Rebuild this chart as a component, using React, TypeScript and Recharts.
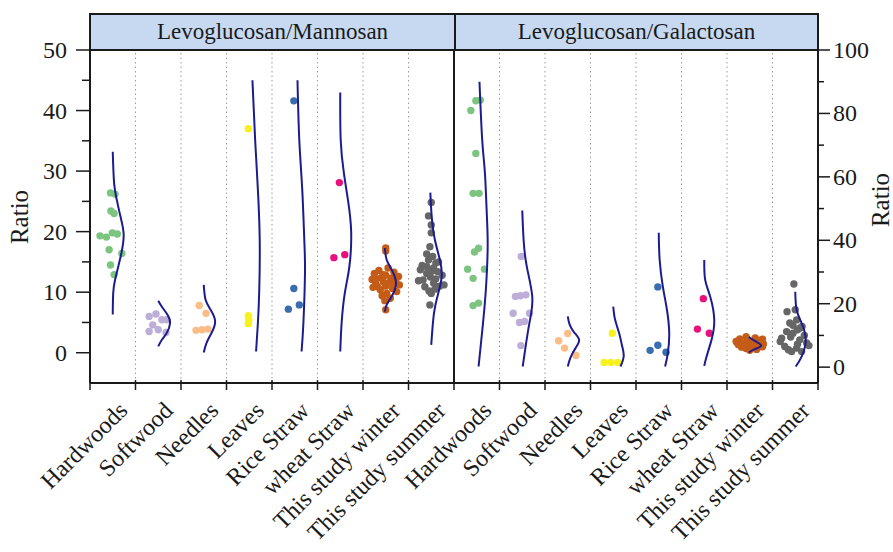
import React from "react";
import {
  ReferenceLine,
  Scatter,
  ScatterChart,
  XAxis,
  YAxis,
} from "recharts";

// Two-panel jitter + half-normal curve chart: Levoglucosan/Mannosan (left
// axis, 0-50) and Levoglucosan/Galactosan (right axis, 0-100).

const panelTitles = ["Levoglucosan/Mannosan", "Levoglucosan/Galactosan"];

const categories = [
  "Hardwoods",
  "Softwood",
  "Needles",
  "Leaves",
  "Rice Straw",
  "wheat Straw",
  "This study winter",
  "This study summer",
];

const groupColors = [
  "#7cc47f",
  "#bcaed6",
  "#fbbd86",
  "#f8f21c",
  "#3a6cae",
  "#e8117c",
  "#c45c17",
  "#666666",
];

const leftTicks = [0, 5, 10, 15, 20, 25, 30, 35, 40, 45, 50];
const rightTicks = [0, 10, 20, 30, 40, 50, 60, 70, 80, 90, 100];

// Levoglucosan/Mannosan points (value + horizontal jitter within the category)
const manValues = [
  [26.4, 26.2, 23.4, 23.0, 19.3, 19.1, 19.8, 19.6, 17.0, 16.4, 14.5, 12.9],
  [6.0, 6.4, 5.45, 5.45, 4.6, 3.5, 3.8, 3.35],
  [7.8, 6.5, 3.7, 3.8, 3.9],
  [37.0, 6.1, 5.4, 4.8],
  [41.6, 10.6, 7.2, 7.9],
  [28.1, 15.7, 16.2],
  [17.3, 16.8, 14.0, 13.6, 13.3, 13.1, 12.8, 12.6, 12.4, 12.3, 12.1, 11.9, 11.7, 11.6, 11.4, 11.2, 11.0, 10.8, 10.6, 10.4, 10.1, 9.8, 9.4, 9.0, 8.6, 7.1, 12.9, 11.5, 10.9, 12.2],
  [24.8, 22.6, 21.1, 19.8, 17.5, 16.3, 15.9, 15.3, 14.8, 14.4, 14.0, 13.7, 13.4, 13.1, 12.8, 12.5, 12.2, 11.9, 11.5, 11.2, 10.9, 10.5, 10.2, 9.8, 7.9, 15.0, 12.0, 13.5, 11.0, 14.2],
];
const manJitter = [
  [-0.05, 0.05, -0.04, 0.03, -0.28, -0.14, -0.01, 0.1, -0.08, 0.2, -0.05, 0.03],
  [-0.2, -0.05, 0.08, 0.19, -0.12, -0.2, 0.0, 0.17],
  [-0.1, 0.05, -0.17, -0.04, 0.09],
  [-0.02, -0.02, -0.01, -0.02],
  [-0.02, -0.02, -0.14, 0.1],
  [-0.02, -0.14, 0.1],
  [0.0, 0.0, 0.05, -0.15, 0.18, -0.25, 0.0, 0.28, -0.1, 0.12, -0.3, 0.22, -0.05, 0.08, -0.22, 0.3, 0.0, -0.28, 0.15, -0.12, 0.24, 0.02, -0.08, 0.1, -0.02, 0.0, -0.05, 0.2, -0.18, -0.2],
  [0.0, -0.06, 0.0, 0.0, -0.03, -0.1, 0.03, -0.06, 0.1, -0.2, 0.05, -0.24, 0.14, -0.1, 0.24, -0.02, 0.1, -0.28, 0.05, 0.28, -0.14, 0.08, -0.05, 0.0, -0.03, 0.16, -0.18, 0.02, 0.18, -0.1],
];

// Levoglucosan/Galactosan points
const galValues = [
  [84.2, 84.0, 80.9, 67.4, 54.8, 54.8, 36.3, 37.5, 30.9, 30.9, 28.0, 19.4, 20.2],
  [34.9, 22.3, 22.8, 22.5, 17.0, 17.0, 14.1, 14.4, 6.8],
  [10.6, 8.3, 6.0, 3.7],
  [10.7, 1.5, 1.5, 1.5],
  [25.3, 5.3, 6.9, 4.7],
  [21.6, 12.0, 10.7],
  [9.6, 9.2, 8.9, 8.6, 8.4, 8.1, 7.9, 7.7, 7.5, 7.3, 7.1, 6.9, 6.7, 6.5, 6.3, 6.1, 5.9, 5.6, 5.3, 8.8, 7.8, 7.0, 6.4, 7.4],
  [26.2, 18.1, 17.5, 14.9, 13.9, 12.3, 11.2, 10.7, 9.1, 8.1, 7.6, 6.5, 6.0, 4.9, 4.9, 12.8, 10.0, 9.5, 8.6, 7.2, 5.5, 11.8, 13.2, 6.8],
];
const galJitter = [
  [0.08, -0.02, -0.13, -0.02, -0.08, 0.05, -0.05, 0.04, -0.2, 0.17, -0.08, -0.08, 0.04],
  [-0.02, -0.15, 0.08, -0.04, -0.2, 0.16, -0.06, 0.05, -0.03],
  [0.0, -0.2, -0.07, 0.18],
  [-0.02, -0.2, -0.05, 0.1],
  [-0.02, -0.19, -0.02, 0.16],
  [-0.02, -0.15, 0.11],
  [-0.08, 0.12, -0.22, 0.25, -0.05, -0.3, 0.18, 0.02, -0.15, 0.3, -0.25, 0.1, -0.02, 0.22, -0.18, 0.05, -0.08, 0.15, 0.0, 0.28, -0.28, -0.1, 0.28, 0.12],
  [-0.03, 0.0, -0.18, 0.03, -0.12, 0.1, -0.19, -0.05, -0.3, -0.33, 0.25, -0.23, 0.03, 0.14, -0.08, 0.15, 0.2, -0.1, 0.1, 0.05, -0.15, 0.05, -0.05, 0.3],
];

// distribution curves as [value, offset from centre]
const manCurves = [
  [[33.2, 0], [28, 0.03], [25.2, 0.09], [22.5, 0.17], [19.5, 0.24], [16.45, 0.19], [14.2, 0.12], [12, 0.05], [9.85, 0.01], [6.3, 0]],
  [[8.6, 0], [7.6, 0.08], [6.3, 0.2], [4.9, 0.26], [3.25, 0.185], [2.15, 0.08], [1.05, 0]],
  [[11.2, 0], [8.75, 0.04], [7.1, 0.15], [5.2, 0.25], [3.25, 0.17], [1.6, 0.06], [0.05, 0]],
  [[45, 0.07], [35.1, 0.13], [26.9, 0.19], [18.6, 0.23], [10.4, 0.22], [4.9, 0.19], [0.2, 0.15]],
  [[45, 0.06], [35.1, 0.1], [26.9, 0.165], [18.6, 0.21], [13.2, 0.225], [4.9, 0.19], [0.2, 0.15]],
  [[43, 0], [35.1, 0.01], [29.65, 0.08], [25.2, 0.17], [20, 0.24], [14.2, 0.2], [9.85, 0.1], [4.9, 0.03], [0.2, 0]],
  [[17.3, -0.02], [15.35, 0.02], [13.7, 0.13], [11.45, 0.225], [9.3, 0.13], [7.9, 0.02], [6.8, -0.02]],
  [[26.45, -0.02], [22.5, 0.01], [18.65, 0.08], [15.35, 0.19], [12.6, 0.23], [9.85, 0.155], [6.55, 0.06], [1.3, 0]],
];
const galCurves = [
  [[90, 0.06], [71.6, 0.12], [61.1, 0.18], [48.5, 0.22], [38, 0.24], [24.4, 0.2], [12.8, 0.13], [0.2, 0.04]],
  [[49.4, 0], [40.1, 0.03], [31.7, 0.1], [22.25, 0.22], [14.9, 0.17], [7.55, 0.085], [0.2, 0.01]],
  [[16, 0], [13.5, 0.04], [11, 0.14], [8.6, 0.25], [6, 0.17], [3, 0.06], [0.2, 0]],
  [[19.1, 0], [15, 0.04], [10.7, 0.13], [7, 0.19], [3.5, 0.23], [0.2, 0.16]],
  [[42.4, 0], [33.8, 0.02], [25.4, 0.09], [18.1, 0.18], [10.7, 0.23], [4.4, 0.2], [0.2, 0.14]],
  [[33.8, 0], [27.5, 0.02], [22.25, 0.13], [14.9, 0.22], [8.6, 0.16], [3.3, 0.05], [0.4, 0]],
  [[9.5, -0.02], [8.2, 0.12], [6.8, 0.25], [5.6, 0.1], [4.6, -0.02]],
  [[23.8, 0], [18.1, 0.03], [13.9, 0.14], [8.6, 0.23], [3.3, 0.14], [0.2, 0.01]],
];

const FONT = "'Liberation Serif', 'Times New Roman', serif";
const INK = "#1a1a1a";
const CURVE = "#1c1c8e";

const xTicks: number[] = [];
for (let i = 0; i <= 32; i++) xTicks.push(i / 2);

const LeftTick = ({ x, y, payload }: any) => {
  const major = payload.value % 10 === 0;
  return (
    <g>
      <line x1={x - (major ? 14 : 8)} x2={x} y1={y} y2={y} stroke={INK} strokeWidth={1.5} />
      {major && (
        <text x={x - 23} y={y} textAnchor="end" dominantBaseline="central" fontFamily={FONT} fontSize={24} fill={INK}>
          {payload.value}
        </text>
      )}
    </g>
  );
};

const RightTick = ({ x, y, payload }: any) => {
  const major = payload.value % 20 === 0;
  return (
    <g>
      <line x1={x} x2={x + (major ? 12 : 6)} y1={y} y2={y} stroke={INK} strokeWidth={1.5} />
      {major && (
        <text x={x + 15} y={y} textAnchor="start" dominantBaseline="central" fontFamily={FONT} fontSize={24} fill={INK}>
          {payload.value}
        </text>
      )}
    </g>
  );
};

const BottomTick = ({ x, y, payload }: any) => {
  const v = payload.value;
  if (Number.isInteger(v)) {
    return <line x1={x} x2={x} y1={y - 3} y2={y + 7} stroke={INK} strokeWidth={1.5} />;
  }
  const label = categories[Math.floor(v) % 8];
  const tx = x + 16;
  const ty = y + 29;
  return (
    <text x={tx} y={ty} textAnchor="end" transform={`rotate(-45 ${tx} ${ty})`} fontFamily={FONT} fontSize={24} fill={INK}>
      {label}
    </text>
  );
};

function pointsFor(values: number[], jitter: number[], idx: number) {
  return values.map((v, i) => ({ x: idx + 0.5 + jitter[i], y: v }));
}

function curveFor(curve: number[][], idx: number) {
  return curve.map(([v, off]) => ({ x: idx + 0.5 + off, y: v }));
}

const noDot = () => <g />;

export default function App() {
  const series: React.ReactNode[] = [];
  [manValues, galValues].forEach((panel, p) => {
    const jit = p === 0 ? manJitter : galJitter;
    const axisId = p === 0 ? "m" : "g";
    panel.forEach((vals, c) => {
      const color = groupColors[c];
      series.push(
        <Scatter
          key={`pts-${p}-${c}`}
          yAxisId={axisId}
          data={pointsFor(vals, jit[c], p * 8 + c)}
          isAnimationActive={false}
          shape={(s: any) => <circle cx={s.cx} cy={s.cy} r={3.7} fill={color} />}
        />
      );
    });
  });
  [manCurves, galCurves].forEach((panel, p) => {
    const axisId = p === 0 ? "m" : "g";
    panel.forEach((curve, c) => {
      series.push(
        <Scatter
          key={`crv-${p}-${c}`}
          yAxisId={axisId}
          data={curveFor(curve, p * 8 + c)}
          isAnimationActive={false}
          line={{ stroke: CURVE, strokeWidth: 2 }}
          lineJointType="natural"
          shape={noDot}
        />
      );
    });
  });

  const separators: number[] = [1, 2, 3, 4, 5, 6, 7, 9, 10, 11, 12, 13, 14, 15];

  return (
    <div style={{ position: "absolute", left: 0, top: 0, width: 893, height: 552, background: "#fff" }}>
      <ScatterChart width={893} height={552} margin={{ top: 50, right: 0, bottom: 0, left: 0 }}>
        <XAxis
          type="number"
          dataKey="x"
          domain={[0, 16]}
          ticks={xTicks}
          interval={0}
          height={169}
          tickSize={0}
          tickMargin={0}
          tickLine={false}
          axisLine={{ stroke: INK, strokeWidth: 2 }}
          tick={<BottomTick />}
        />
        <YAxis
          yAxisId="m"
          type="number"
          dataKey="y"
          orientation="left"
          domain={[-5, 50]}
          ticks={leftTicks}
          interval={0}
          width={90}
          tickSize={0}
          tickMargin={0}
          tickLine={false}
          axisLine={{ stroke: INK, strokeWidth: 2 }}
          tick={<LeftTick />}
        />
        <YAxis
          yAxisId="g"
          type="number"
          dataKey="y"
          orientation="right"
          domain={[-5, 100]}
          ticks={rightTicks}
          interval={0}
          width={75}
          tickSize={0}
          tickMargin={0}
          tickLine={false}
          axisLine={{ stroke: INK, strokeWidth: 2 }}
          tick={<RightTick />}
        />
        {separators.map((s) => (
          <ReferenceLine key={s} yAxisId="m" x={s} stroke="#9a9a9a" strokeDasharray="1.5 3" strokeWidth={1} />
        ))}
        <ReferenceLine yAxisId="m" x={8} stroke={INK} strokeWidth={2} />
        {series}
      </ScatterChart>

      <div
        style={{
          position: "absolute",
          left: 89,
          top: 13,
          width: 730,
          height: 38,
          boxSizing: "border-box",
          border: `2px solid ${INK}`,
          background: "#c6d9f1",
          display: "flex",
          fontFamily: FONT,
          fontSize: 23,
          color: INK,
        }}
      >
        {panelTitles.map((t, i) => (
          <div
            key={t}
            style={{
              flex: i === 0 ? "0 0 363px" : "1 1 auto",
              borderLeft: i === 1 ? `2px solid ${INK}` : "none",
              display: "flex",
              alignItems: "center",
              justifyContent: "center",
            }}
          >
            {t}
          </div>
        ))}
      </div>

      <div
        style={{
          position: "absolute",
          left: 20,
          top: 217,
          transform: "translate(-50%, -50%) rotate(-90deg)",
          fontFamily: FONT,
          fontSize: 25,
          color: INK,
          whiteSpace: "nowrap",
        }}
      >
        Ratio
      </div>
      <div
        style={{
          position: "absolute",
          left: 881,
          top: 200,
          transform: "translate(-50%, -50%) rotate(-90deg)",
          fontFamily: FONT,
          fontSize: 25,
          color: INK,
          whiteSpace: "nowrap",
        }}
      >
        Ratio
      </div>
    </div>
  );
}
